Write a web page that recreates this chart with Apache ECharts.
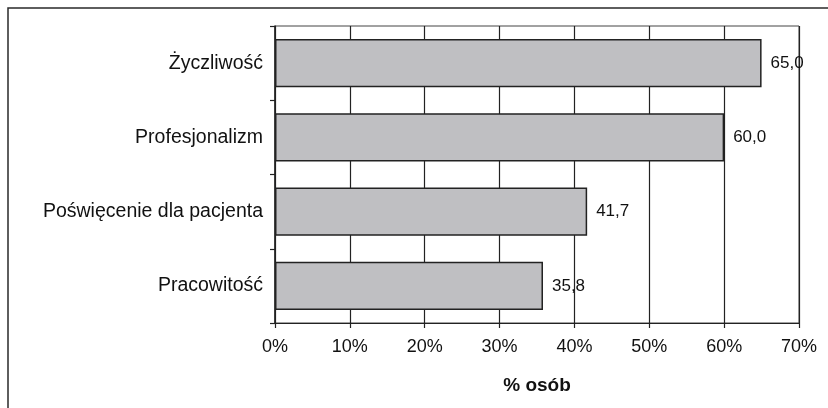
<!DOCTYPE html>
<html>
<head>
<meta charset="utf-8">
<script src="https://cdn.jsdelivr.net/npm/echarts@6/dist/echarts.min.js"></script>
<style>
  html, body { margin: 0; padding: 0; background: #fff; }
  #chart { width: 828px; height: 408px; }
</style>
</head>
<body>
<div id="chart"></div>
<script>
// Qualities, listed bottom-to-top as drawn on the category axis
const categories = ['Pracowitość', 'Poświęcenie dla pacjenta', 'Profesjonalizm', 'Życzliwość'];
const shares = [35.8, 41.7, 60.0, 65.0];
const tickValues = [0, 10, 20, 30, 40, 50, 60, 70];
const axisTitle = '% osób';

const font = '"Liberation Sans", Arial, Helvetica, sans-serif';
const chart = echarts.init(document.getElementById('chart'), null, { renderer: 'canvas' });

chart.setOption({
  animation: false,
  backgroundColor: '#fff',
  textStyle: { fontFamily: font },
  graphic: [{
    type: 'rect',
    shape: { x: 8, y: 8, width: 900, height: 500 },
    style: { fill: 'none', stroke: '#2a2a2a', lineWidth: 1.5 },
    silent: true
  }],
  grid: {
    left: 275, right: 29, top: 26, bottom: 85,
    show: true, borderColor: '#444', borderWidth: 1
  },
  xAxis: {
    type: 'value',
    min: tickValues[0],
    max: tickValues[tickValues.length - 1],
    interval: 10,
    name: axisTitle,
    nameLocation: 'middle',
    nameGap: 53,
    nameTextStyle: { fontFamily: font, fontSize: 19, fontWeight: 'bold', color: '#111' },
    axisLine: { show: true, lineStyle: { color: '#222', width: 1.2 } },
    axisTick: { show: true, length: 5, lineStyle: { color: '#222', width: 1.2 } },
    splitLine: { show: true, lineStyle: { color: '#222', width: 1.2 } },
    axisLabel: {
      fontFamily: font, fontSize: 18, color: '#111', margin: 15,
      formatter: v => v + '%'
    }
  },
  yAxis: {
    type: 'category',
    data: categories,
    axisLine: { show: true, lineStyle: { color: '#222', width: 1.5 } },
    axisTick: { show: true, length: 5, lineStyle: { color: '#222', width: 1.2 } },
    axisLabel: { fontFamily: font, fontSize: 19.5, color: '#111', margin: 12 }
  },
  series: [{
    type: 'bar',
    data: shares,
    barCategoryGap: '35%',
    itemStyle: { color: '#bfbfc2', borderColor: '#222', borderWidth: 1.5 },
    label: {
      show: true,
      position: 'right',
      distance: 9,
      fontFamily: font,
      fontSize: 17,
      color: '#111',
      formatter: p => p.value.toFixed(1).replace('.', ',')
    }
  }]
});
</script>
</body>
</html>
